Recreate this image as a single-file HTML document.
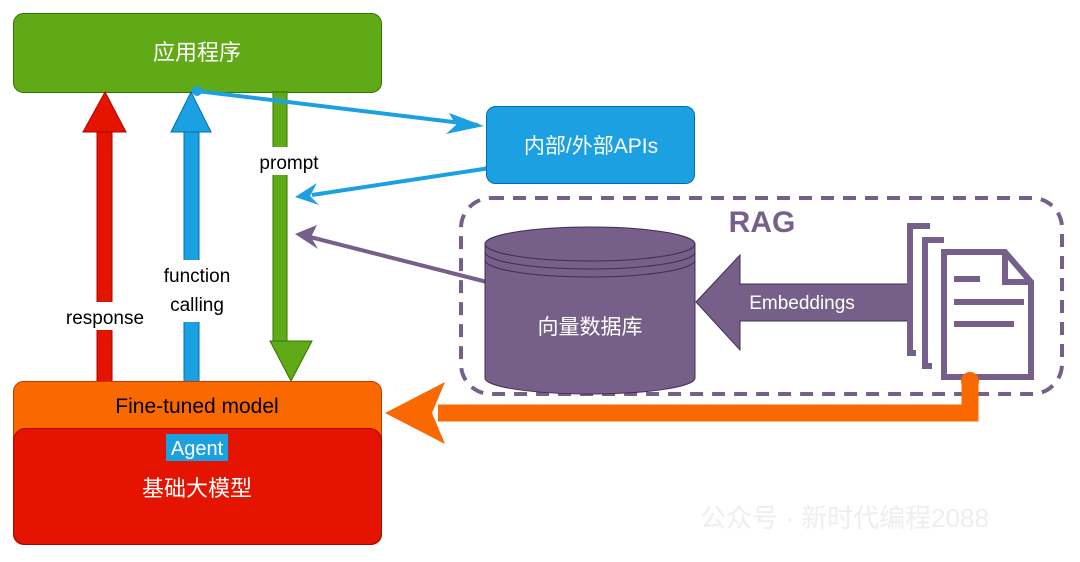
<!DOCTYPE html>
<html><head><meta charset="utf-8"><style>
html,body{margin:0;padding:0;background:#fff;}
svg{display:block;font-family:"Liberation Sans","Noto Sans CJK SC",sans-serif;}
</style></head><body>
<svg width="1080" height="562" viewBox="0 0 1080 562" xmlns="http://www.w3.org/2000/svg">
<rect x="13.5" y="13.5" width="368" height="79" rx="10" fill="#60a917" stroke="#2d7600"/>
<text x="197" y="60" font-size="22" fill="#fff" text-anchor="middle">应用程序</text>

<rect x="97" y="130" width="15" height="252" fill="#e51400" stroke="#b20000"/>
<polygon points="105,92 126,132 83,132" fill="#e51400" stroke="#b20000"/>
<rect x="55" y="302" width="100" height="28" fill="#fff"/>
<text x="105" y="324" font-size="19" text-anchor="middle">response</text>

<rect x="184" y="130" width="15" height="252" fill="#1ba1e2" stroke="#006eaf"/>
<polygon points="191,92 211,132 171,132" fill="#1ba1e2" stroke="#006eaf"/>
<rect x="150" y="260" width="95" height="62" fill="#fff"/>
<text x="197" y="282" font-size="19" text-anchor="middle">function</text>
<text x="197" y="311" font-size="19" text-anchor="middle">calling</text>

<rect x="273" y="92" width="14" height="250" fill="#60a917" stroke="#2d7600"/>
<polygon points="270,341 312,341 291,381" fill="#60a917" stroke="#2d7600"/>
<rect x="248" y="147" width="82" height="28" fill="#fff"/>
<text x="289" y="169" font-size="19" text-anchor="middle">prompt</text>

<circle cx="197" cy="91" r="5" fill="#1ba1e2"/>
<line x1="197" y1="91" x2="478" y2="125" stroke="#1ba1e2" stroke-width="4"/>
<polygon points="484,126 446,134 456,125 449,113" fill="#1ba1e2"/>
<circle cx="490" cy="168" r="5" fill="#1ba1e2"/>
<line x1="490" y1="168" x2="312" y2="195" stroke="#1ba1e2" stroke-width="4"/>
<polygon points="295,197 317,183 310,196 319,205" fill="#1ba1e2"/>

<rect x="486.5" y="106.5" width="208" height="77" rx="9" fill="#1ba1e2" stroke="#006eaf"/>
<text x="591" y="153" font-size="21" fill="#fff" text-anchor="middle">内部/外部APIs</text>

<line x1="487" y1="282" x2="310" y2="237" stroke="#76608a" stroke-width="4"/>
<polygon points="295,234 317,225 311,237 318,249" fill="#76608a"/>

<rect x="461" y="198" width="601" height="196" rx="30" fill="none" stroke="#76608a" stroke-width="4" stroke-dasharray="13 9"/>
<text x="762" y="232" font-size="30" font-weight="bold" fill="#76608a" text-anchor="middle">RAG</text>

<path d="M485,244 L485,378 A105,16 0 0 0 695,378 L695,244 Z" fill="#76608a" stroke="#432d57"/>
<ellipse cx="590" cy="244" rx="105" ry="17" fill="#76608a" stroke="#432d57"/>
<path d="M485,252 A105,17 0 0 0 695,252" fill="none" stroke="#432d57"/>
<path d="M485,260 A105,17 0 0 0 695,260" fill="none" stroke="#432d57"/>
<text x="590" y="334" font-size="21" fill="#fff" text-anchor="middle">向量数据库</text>

<polygon points="696,302 740,255 740,284 908,284 908,321 740,321 740,350" fill="#76608a" stroke="#432d57"/>
<text x="802" y="309" font-size="19" fill="#fff" text-anchor="middle">Embeddings</text>

<g fill="none" stroke="#76608a" stroke-width="6">
<path d="M930,226 L910,226 L910,353 L916,353"/>
<path d="M944,240 L925,240 L925,366 L932,366"/>
<path d="M944,252 L1005,252 L1031,282 L1031,377 L944,377 Z"/>
<path d="M1005,252 L1005,282 L1031,282"/>
<line x1="954" y1="279" x2="980" y2="279"/>
<line x1="954" y1="302" x2="1024" y2="302"/>
<line x1="954" y1="324" x2="1014" y2="324"/>
</g>

<circle cx="970" cy="381" r="9" fill="#fa6800"/>
<polyline points="970,381 970,413 438,413" fill="none" stroke="#fa6800" stroke-width="17"/>
<polygon points="385,413 445,382 432,413 445,444" fill="#fa6800"/>

<rect x="13.5" y="381.5" width="368" height="163" rx="10" fill="#fa6800" stroke="#c73500"/>
<text x="197" y="413" font-size="21" text-anchor="middle">Fine-tuned model</text>
<rect x="13.5" y="428.5" width="368" height="116" rx="12" fill="#e51400" stroke="#b20000"/>
<rect x="166" y="434" width="62" height="27" fill="#1ba1e2"/>
<text x="197" y="455" font-size="20" fill="#fff" text-anchor="middle">Agent</text>
<text x="197" y="496" font-size="22" fill="#fff" text-anchor="middle">基础大模型</text>

<text x="700" y="527" font-size="26" fill="#eeeeee">公众号 · 新时代编程2088</text>
</svg>
</body></html>
